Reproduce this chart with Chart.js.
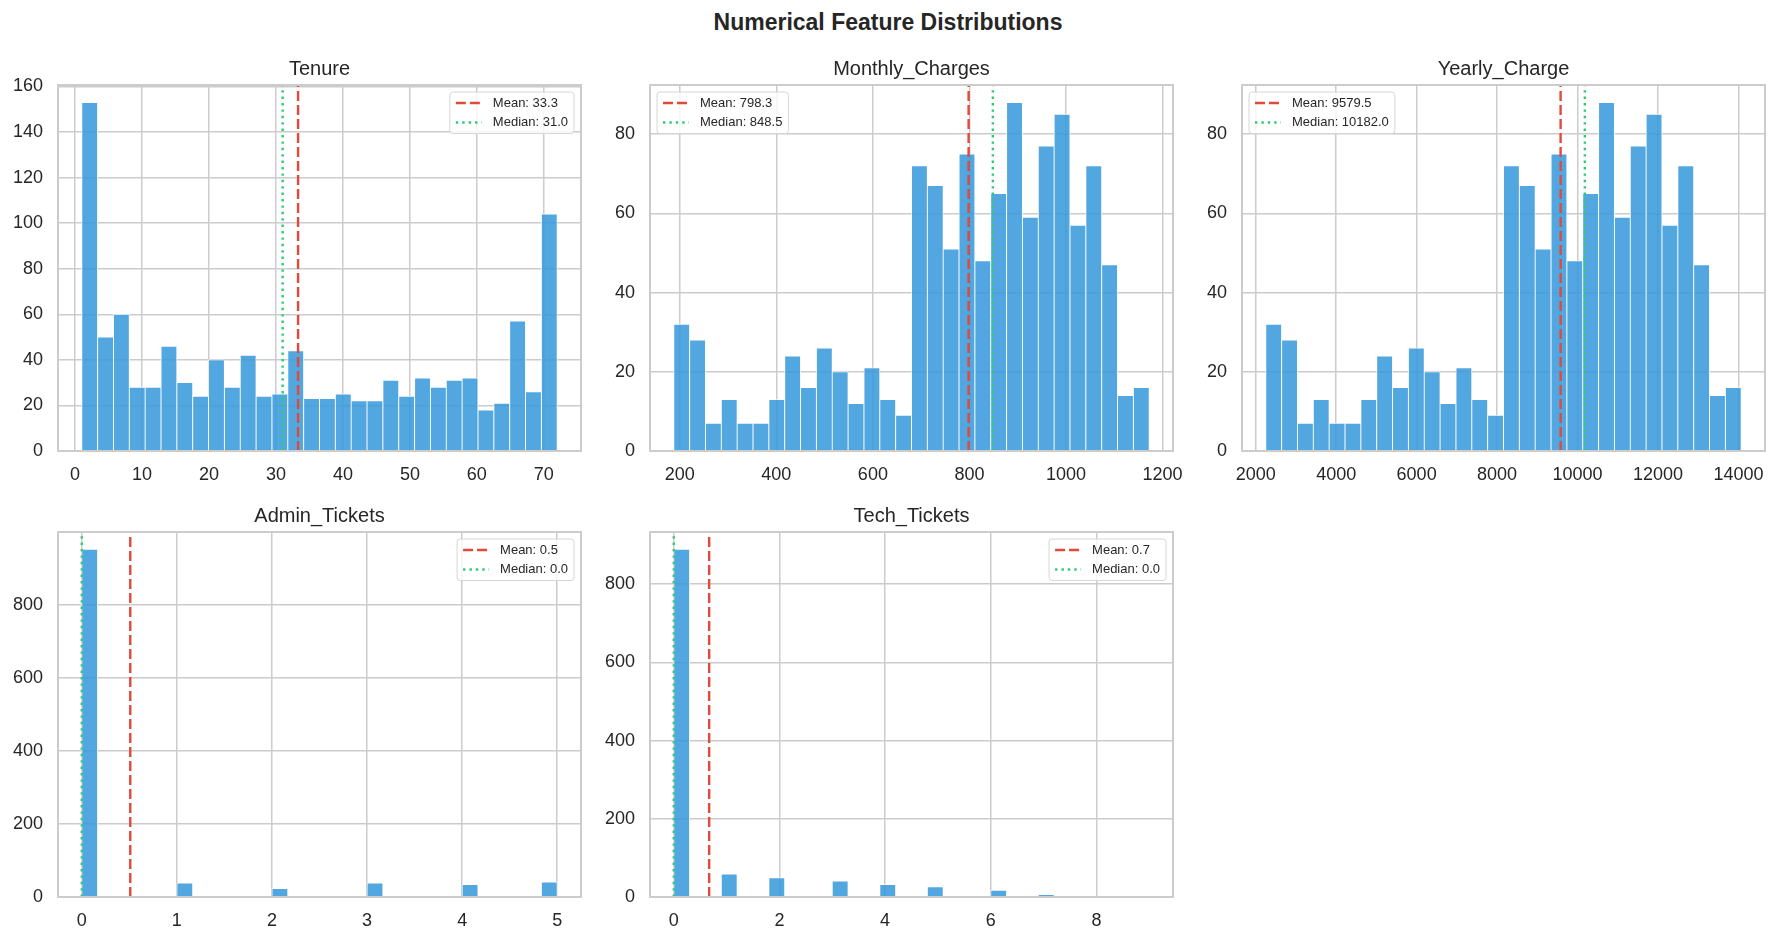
<!DOCTYPE html>
<html lang="en">
<head>
<meta charset="UTF-8">
<title>Numerical Feature Distributions</title>
<script src="https://cdn.jsdelivr.net/npm/chart.js"></script>
<style>
    body {
        margin: 0;
        background: #ffffff;
        font-family: "Liberation Sans", Arial, Helvetica, sans-serif;
    }
    #page {
        position: relative;
        width: 1776px;
        height: 943px;
        overflow: hidden;
        background: #ffffff;
    }
    #suptitle {
        position: absolute;
        left: 0;
        top: 8px;
        width: 1776px;
        text-align: center;
        font-size: 23px;
        line-height: 28px;
        font-weight: bold;
        color: #262626;
    }
    canvas { position: absolute; }
</style>
</head>
<body>
<div id="page">
    <div id="suptitle">Numerical Feature Distributions</div>
    <canvas id="tenure"></canvas>
    <canvas id="monthly"></canvas>
    <canvas id="yearly"></canvas>
    <canvas id="admin"></canvas>
    <canvas id="tech"></canvas>
</div>

<script>
// histogram counts (30 bins each)
const tenureCounts = [153, 50, 60, 28, 28, 46, 30, 24, 40, 28, 42, 24, 25, 44, 23,
                      23, 25, 22, 22, 31, 24, 32, 28, 31, 32, 18, 21, 57, 26, 104];
const monthlyCounts = [32, 28, 7, 13, 7, 7, 13, 24, 16, 26, 20, 12, 21, 13, 9,
                       72, 67, 51, 75, 48, 65, 88, 59, 77, 85, 57, 72, 47, 14, 16];
const yearlyCounts = [32, 28, 7, 13, 7, 7, 13, 24, 16, 26, 20, 12, 21, 13, 9,
                      72, 67, 51, 75, 48, 65, 88, 59, 77, 85, 57, 72, 47, 14, 16];
const adminCounts = [951, 0, 0, 0, 0, 0, 38, 0, 0, 0, 0, 0, 23, 0, 0,
                     0, 0, 0, 38, 0, 0, 0, 0, 0, 34, 0, 0, 0, 0, 41];
const techCounts = [889, 0, 0, 59, 0, 0, 49, 0, 0, 0, 41, 0, 0, 32, 0,
                    0, 26, 0, 0, 0, 17, 0, 0, 6, 0, 0, 2, 0, 0, 1];

// bin ranges [min, max]
const tenureRange = [1, 72];
const monthlyRange = [187.5, 1172.5];
const yearlyRange = [2250, 14070];
const adminRange = [0, 5];
const techRange = [0, 9];

// mean / median
const tenureStats = [33.3, 31.0];
const monthlyStats = [798.3, 848.5];
const yearlyStats = [9579.5, 10182.0];
const adminStats = [0.51, 0.0];
const techStats = [0.67, 0.0];

// tick labels
const tenureXTicks = [0, 10, 20, 30, 40, 50, 60, 70];
const tenureYTicks = [0, 20, 40, 60, 80, 100, 120, 140, 160];
const monthlyXTicks = [200, 400, 600, 800, 1000, 1200];
const monthlyYTicks = [0, 20, 40, 60, 80];
const yearlyXTicks = [2000, 4000, 6000, 8000, 10000, 12000, 14000];
const yearlyYTicks = [0, 20, 40, 60, 80];
const adminXTicks = [0, 1, 2, 3, 4, 5];
const adminYTicks = [0, 200, 400, 600, 800];
const techXTicks = [0, 2, 4, 6, 8];
const techYTicks = [0, 200, 400, 600, 800];

const FONT = '"Liberation Sans", Arial, Helvetica, sans-serif';
const TEXT = '#262626';
const GRID = '#cccccc';
const AXIS_W = 58, PLOT_W = 523, PAD_R = 40, TITLE_H = 32, XAXIS_H = 42;

Chart.defaults.font.family = FONT;
Chart.defaults.color = TEXT;

// box round the plot area, drawn over the bars like matplotlib spines
const spines = {
    id: 'spines',
    afterDatasetsDraw(chart) {
        const { ctx, chartArea: a } = chart;
        ctx.save();
        ctx.strokeStyle = GRID;
        ctx.lineWidth = 2;
        ctx.strokeRect(a.left, a.top, a.right - a.left, a.bottom - a.top);
        ctx.restore();
    }
};

// small legend inside the axes for the mean / median lines
const statLegend = {
    id: 'statLegend',
    afterDraw(chart, args, opts) {
        const { ctx, chartArea: a } = chart;
        const items = chart.data.datasets.filter(d => d.type === 'line');
        const fs = 13, pad = 6, handle = 26, hpad = 11, rowH = 13, gap = 6.5, padY = 4.5, axPad = 7;
        ctx.save();
        ctx.font = fs + 'px ' + FONT;
        const textW = Math.max(...items.map(d => ctx.measureText(d.label).width));
        const w = pad + handle + hpad + textW + pad;
        const h = padY * 2 + items.length * rowH + (items.length - 1) * gap;
        const x = opts.side === 'left' ? a.left + axPad : a.right - axPad - w;
        const y = a.top + axPad;

        ctx.beginPath();
        ctx.roundRect(x, y, w, h, 3);
        ctx.fillStyle = 'rgba(255,255,255,0.8)';
        ctx.fill();
        ctx.strokeStyle = '#d6d6d6';
        ctx.lineWidth = 1;
        ctx.stroke();

        items.forEach((d, i) => {
            const cy = y + padY + rowH / 2 + i * (rowH + gap);
            ctx.beginPath();
            ctx.setLineDash(d.borderDash);
            ctx.strokeStyle = d.borderColor;
            ctx.lineWidth = d.borderWidth;
            ctx.moveTo(x + pad, cy);
            ctx.lineTo(x + pad + handle, cy);
            ctx.stroke();
            ctx.setLineDash([]);
            ctx.fillStyle = TEXT;
            ctx.textBaseline = 'middle';
            ctx.textAlign = 'left';
            ctx.fillText(d.label, x + pad + handle + hpad, cy);
        });
        ctx.restore();
    }
};

const panels = [
    { id: 'tenure', title: 'Tenure', counts: tenureCounts, range: tenureRange, stats: tenureStats,
      xTicks: tenureXTicks, yTicks: tenureYTicks, side: 'right', left: 58, top: 85, plotH: 366 },
    { id: 'monthly', title: 'Monthly_Charges', counts: monthlyCounts, range: monthlyRange, stats: monthlyStats,
      xTicks: monthlyXTicks, yTicks: monthlyYTicks, side: 'left', left: 650, top: 85, plotH: 366 },
    { id: 'yearly', title: 'Yearly_Charge', counts: yearlyCounts, range: yearlyRange, stats: yearlyStats,
      xTicks: yearlyXTicks, yTicks: yearlyYTicks, side: 'left', left: 1242, top: 85, plotH: 366 },
    { id: 'admin', title: 'Admin_Tickets', counts: adminCounts, range: adminRange, stats: adminStats,
      xTicks: adminXTicks, yTicks: adminYTicks, side: 'right', left: 58, top: 532, plotH: 365 },
    { id: 'tech', title: 'Tech_Tickets', counts: techCounts, range: techRange, stats: techStats,
      xTicks: techXTicks, yTicks: techYTicks, side: 'right', left: 650, top: 532, plotH: 365 }
];

panels.forEach(p => {
    const span = p.range[1] - p.range[0];
    const binW = span / p.counts.length;
    const bars = p.counts.map((c, i) => ({ x: p.range[0] + (i + 0.5) * binW, y: c }));
    const yMax = Math.max(...p.counts) * 1.05;
    const [mean, median] = p.stats;

    const canvas = document.getElementById(p.id);
    canvas.width = AXIS_W + PLOT_W + PAD_R;
    canvas.height = TITLE_H + p.plotH + XAXIS_H;
    canvas.style.left = (p.left - AXIS_W) + 'px';
    canvas.style.top = (p.top - TITLE_H) + 'px';

    new Chart(canvas, {
        type: 'bar',
        data: {
            datasets: [
                {
                    type: 'bar',
                    data: bars,
                    backgroundColor: 'rgba(52,152,219,0.85)',
                    borderColor: '#ffffff',
                    borderWidth: 0.8,
                    barPercentage: 1,
                    categoryPercentage: 1,
                    order: 2
                },
                {
                    type: 'line',
                    label: 'Mean: ' + mean.toFixed(1),
                    data: [{ x: mean, y: 0 }, { x: mean, y: yMax }],
                    borderColor: '#e2493b',
                    borderWidth: 2.4,
                    borderDash: [10, 4],
                    pointRadius: 0,
                    order: 1
                },
                {
                    type: 'line',
                    label: 'Median: ' + median.toFixed(1),
                    data: [{ x: median, y: 0 }, { x: median, y: yMax }],
                    borderColor: '#2ecc71',
                    borderWidth: 2.4,
                    borderDash: [2.4, 4],
                    pointRadius: 0,
                    order: 0
                }
            ]
        },
        options: {
            responsive: false,
            animation: false,
            devicePixelRatio: 1,
            layout: { padding: { left: 0, right: PAD_R, top: 0, bottom: 0 } },
            plugins: {
                legend: { display: false },
                tooltip: { enabled: false },
                title: {
                    display: true,
                    text: p.title,
                    fullSize: false,
                    color: TEXT,
                    font: { size: 20, weight: 'normal', lineHeight: 1.2 },
                    padding: { top: 4, bottom: 4 }
                },
                statLegend: { side: p.side }
            },
            scales: {
                x: {
                    type: 'linear',
                    min: p.range[0] - 0.05 * span,
                    max: p.range[1] + 0.05 * span,
                    offset: false,
                    afterBuildTicks: s => { s.ticks = p.xTicks.map(v => ({ value: v })); },
                    afterFit: s => { s.height = XAXIS_H; },
                    grid: { color: GRID, lineWidth: 1.5, drawTicks: false, offset: false },
                    border: { display: false },
                    ticks: {
                        padding: 13, autoSkip: false, maxRotation: 0,
                        font: { size: 18 }, color: TEXT,
                        callback: v => String(v)
                    }
                },
                y: {
                    type: 'linear',
                    min: 0,
                    max: yMax,
                    afterBuildTicks: s => { s.ticks = p.yTicks.map(v => ({ value: v })); },
                    afterFit: s => { s.width = AXIS_W; },
                    grid: { color: GRID, lineWidth: 1.5, drawTicks: false },
                    border: { display: false },
                    ticks: {
                        padding: 15,
                        font: { size: 18 }, color: TEXT,
                        callback: v => String(v)
                    }
                }
            }
        },
        plugins: [spines, statLegend]
    });
});
</script>
</body>
</html>
